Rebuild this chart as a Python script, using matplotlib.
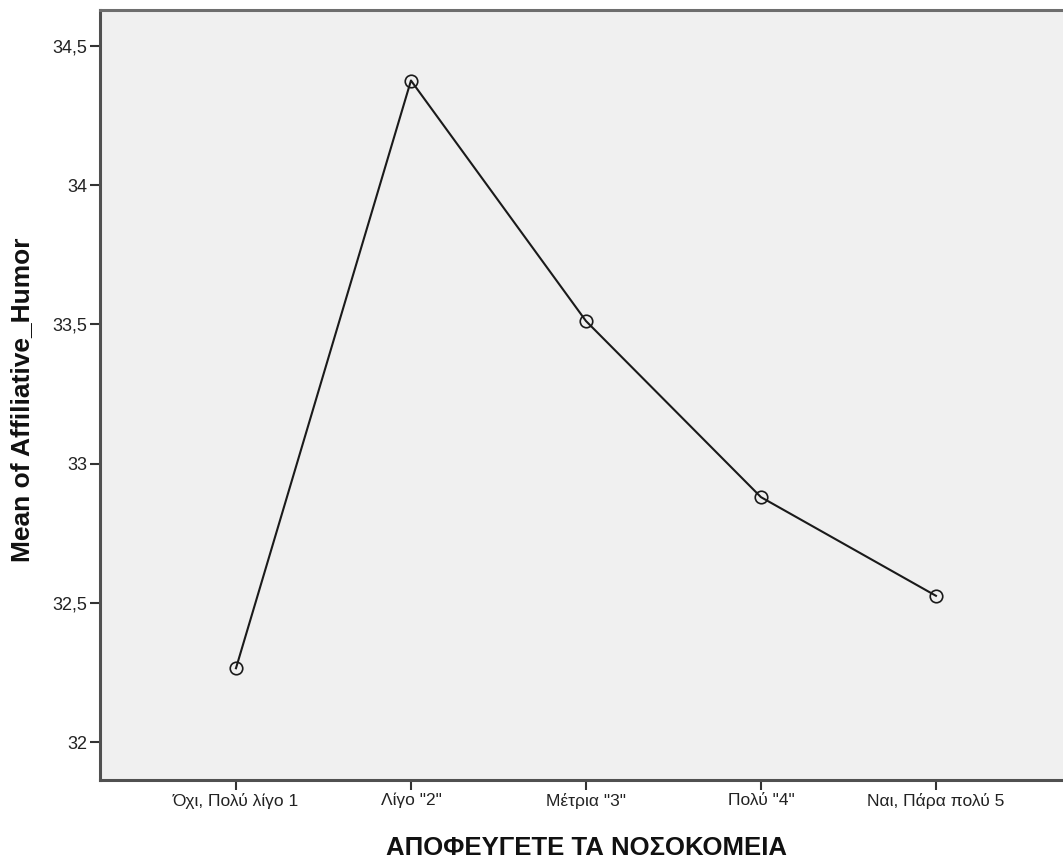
import matplotlib
matplotlib.use("Agg")
import matplotlib.pyplot as plt

categories = ['Όχι, Πολύ λίγο 1', 'Λίγο "2"', 'Μέτρια "3"', 'Πολύ "4"', 'Ναι, Πάρα πολύ 5']
means = [32.266, 34.375, 33.512, 32.880, 32.526]
yticks = [32, 32.5, 33, 33.5, 34, 34.5]
ytick_labels = ['32', '32,5', '33', '33,5', '34', '34,5']

plt.rcParams['font.family'] = ['Liberation Sans', 'DejaVu Sans']

W, H = 1063, 863
fig = plt.figure(figsize=(W / 100, H / 100), dpi=100)
ax = fig.add_axes([100 / W, (H - 780) / H, 1 - 100 / W, (780 - 10) / H])
ax.set_facecolor('#f0f0f0')

x = list(range(len(categories)))
ax.plot(x, means, color='#1a1a1a', lw=1.5, marker='o', ms=9,
        mfc='none', mec='#1a1a1a', mew=1.2, zorder=3)

ax.set_xlim(-0.777, 4.726)
ax.set_ylim(31.865, 34.628)
ax.set_xticks(x)
ax.set_xticklabels(categories, fontsize=12.5)
ax.set_yticks(yticks)
ax.set_yticklabels(ytick_labels, fontsize=13)

for s in ['left', 'bottom']:
    ax.spines[s].set_color('#505050')
    ax.spines[s].set_linewidth(2.2)
ax.spines['top'].set_color('#6e6e6e')
ax.spines['top'].set_linewidth(2.2)
ax.spines['right'].set_visible(False)
ax.tick_params(axis='both', direction='out', length=7, width=1.5, color='#333333',
               labelcolor='#222222', pad=2)

fig.text(586 / W, (H - 855) / H, 'ΑΠΟΦΕΥΓΕΤΕ ΤΑ ΝΟΣΟΚΟΜΕΙΑ', fontsize=18.5,
         fontweight='bold', ha='center', va='baseline', color='#111111')
fig.text(22 / W, (H - 400) / H, 'Mean of Affiliative_Humor', fontsize=19,
         fontweight='bold', ha='center', va='center', rotation=90, color='#111111')

fig.savefig('out.png', dpi=100)
